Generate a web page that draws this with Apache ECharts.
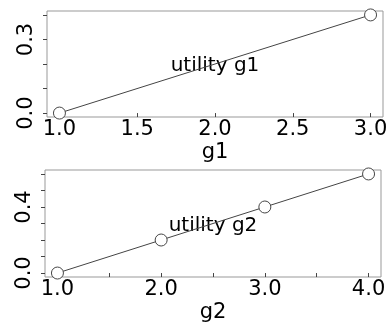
<!DOCTYPE html>
<html>
<head>
<meta charset="utf-8">
<script src="https://cdn.jsdelivr.net/npm/echarts@6/dist/echarts.min.js"></script>
<style>
  html, body { margin: 0; padding: 0; background: #fff; }
  #main { width: 391px; height: 324px; }
</style>
</head>
<body>
<div id="main"></div>
<script>
// panel 1
var g1 = [1, 3];
var u1 = [0, 0.4];
var x1Ticks = [1.0, 1.5, 2.0, 2.5, 3.0];
var x1Labels = [1.0, 1.5, 2.0, 2.5, 3.0];
var y1Ticks = [0, 0.1, 0.2, 0.3, 0.4];
var y1Labels = [0, 0.3];

// panel 2
var g2 = [1, 2, 3, 4];
var u2 = [0, 0.2, 0.4, 0.6];
var x2Ticks = [1.0, 1.5, 2.0, 2.5, 3.0, 3.5, 4.0];
var x2Labels = [1.0, 2.0, 3.0, 4.0];
var y2Ticks = [0, 0.1, 0.2, 0.3, 0.4, 0.5, 0.6];
var y2Labels = [0, 0.4];

var FONT = '"DejaVu Sans", sans-serif';

// R-style 4% padding around the data range
function pad(arr) {
  var lo = Math.min.apply(null, arr), hi = Math.max.apply(null, arr);
  var d = (hi - lo) * 0.04;
  return [lo - d, hi + d];
}

function xAxis(idx, data, ticks, labels, name) {
  var r = pad(data);
  return {
    type: 'value', gridIndex: idx, min: r[0], max: r[1],
    name: name, nameLocation: 'middle', nameGap: 25,
    nameTextStyle: { fontFamily: FONT, fontSize: 21, color: '#000' },
    axisLine: { show: false },
    splitLine: { show: false },
    axisTick: { show: true, length: 4, customValues: ticks, lineStyle: { color: '#444' } },
    axisLabel: {
      customValues: labels, margin: 2,
      fontFamily: FONT, fontSize: 21, color: '#000',
      formatter: function (v) { return v.toFixed(1); }
    }
  };
}

function yAxis(idx, data, ticks, labels) {
  var r = pad(data);
  return {
    type: 'value', gridIndex: idx, min: r[0], max: r[1],
    axisLine: { show: false },
    splitLine: { show: false },
    axisTick: { show: true, length: 4, customValues: ticks, lineStyle: { color: '#444' } },
    axisLabel: {
      customValues: labels, rotate: 90, margin: 10,
      fontFamily: FONT, fontSize: 21, color: '#000',
      formatter: function (v) { return v.toFixed(1); }
    }
  };
}

function lineSeries(idx, xs, ys) {
  return {
    type: 'line', xAxisIndex: idx, yAxisIndex: idx,
    data: xs.map(function (x, i) { return [x, ys[i]]; }),
    symbol: 'circle', symbolSize: 12, showAllSymbol: true,
    lineStyle: { color: '#444', width: 1 },
    itemStyle: { color: '#fff', borderColor: '#444', borderWidth: 1 },
    animation: false, clip: false
  };
}

var chart = echarts.init(document.getElementById('main'));
chart.setOption({
  animation: false,
  grid: [
    { left: 47, top: 11, width: 336, height: 106, show: true, borderColor: '#999', borderWidth: 1 },
    { left: 45, top: 170, width: 336, height: 108, show: true, borderColor: '#999', borderWidth: 1 }
  ],
  xAxis: [
    xAxis(0, g1, x1Ticks, x1Labels, 'g1'),
    xAxis(1, g2, x2Ticks, x2Labels, 'g2')
  ],
  yAxis: [
    yAxis(0, u1, y1Ticks, y1Labels),
    yAxis(1, u2, y2Ticks, y2Labels)
  ],
  graphic: [
    { type: 'text', x: 215, y: 66, style: { text: 'utility g1', font: '20px ' + FONT, fill: '#000', textAlign: 'center', textVerticalAlign: 'middle' } },
    { type: 'text', x: 213, y: 226, style: { text: 'utility g2', font: '20px ' + FONT, fill: '#000', textAlign: 'center', textVerticalAlign: 'middle' } }
  ],
  series: [
    lineSeries(0, g1, u1),
    lineSeries(1, g2, u2)
  ]
});
</script>
</body>
</html>
